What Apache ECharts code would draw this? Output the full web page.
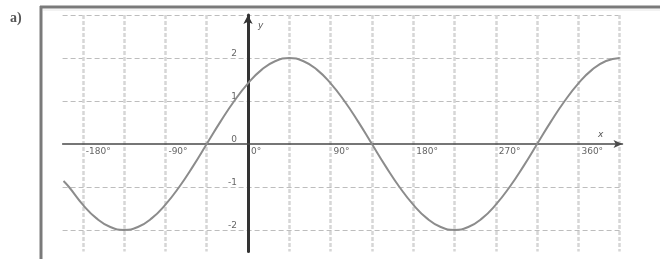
<!DOCTYPE html>
<html>
<head>
<meta charset="utf-8">
<script src="https://cdn.jsdelivr.net/npm/echarts@6/dist/echarts.min.js"></script>
<style>
  html, body { margin: 0; padding: 0; background: #fff; }
  #chart { width: 660px; height: 259px; }
</style>
</head>
<body>
<div id="chart"></div>
<script>
  // angle (deg) and y
  const angles = [-201, -195, -180, -165, -150, -135, -120, -105, -90, -75, -60, -45, -30, -15, 0, 15, 30, 45, 60, 75, 90, 105, 120, 135, 150, 165, 180, 195, 210, 225, 240, 255, 270, 285, 300, 315, 330, 345, 360, 375, 390, 405]
  const yValues = [-0.86, -1, -1.41, -1.73, -1.93, -2, -1.93, -1.73, -1.41, -1, -0.52, 0, 0.52, 1, 1.41, 1.73, 1.93, 2, 1.93, 1.73, 1.41, 1, 0.52, 0, -0.52, -1, -1.41, -1.73, -1.93, -2, -1.93, -1.73, -1.41, -1, -0.52, 0, 0.52, 1, 1.41, 1.73, 1.93, 2]
  const xGrid = [-180, -135, -90, -45, 0, 45, 90, 135, 180, 225, 270, 315, 360, 405]
  const xLabels = [-180, -90, 0, 90, 180, 270, 360]
  const yGrid = [-2, -1, 1, 2, 3]
  const yLabels = [-2, -1, 0, 1, 2]

  const curve = angles.map((a, i) => [a, yValues[i]])

  const options = {
    animation: false,
    grid: {
      left: 62.6,
      right: 37.5,
      top: 15,
      bottom: 7.5,
    },
    xAxis: {
      type: 'value',
      min: -202,
      max: 408,
      // 轴线移到 y=0 处，标签跟着走
      offset: -107.5,
      axisLine: {
        onZero: false,
        symbol: ['none', 'arrow'],
        symbolSize: [6, 9],
        lineStyle: { color: '#4a4a4a', width: 1.5 },
      },
      axisTick: { show: false, customValues: xGrid },
      axisLabel: {
        customValues: xLabels,
        formatter: v => v + '°',
        align: 'left',
        margin: 3,
        padding: [0, 0, 0, 3],
        fontSize: 9,
        color: '#666',
        fontFamily: 'DejaVu Sans',
      },
      // 竖向虚线网格
      splitLine: {
        show: true,
        lineStyle: { color: '#d6d6d6', width: 2.5, type: [4, 2] },
      },
    },
    yAxis: {
      type: 'value',
      min: -2.5,
      max: 3,
      offset: -185.4,
      axisLine: {
        onZero: false,
        symbol: ['none', 'arrow'],
        symbolSize: [7, 9],
        lineStyle: { color: '#333', width: 3 },
      },
      axisTick: { show: false, customValues: yGrid },
      axisLabel: {
        customValues: yLabels,
        margin: 11,
        verticalAlign: 'bottom',
        fontSize: 9,
        color: '#666',
        fontFamily: 'DejaVu Sans',
      },
      splitLine: {
        show: true,
        lineStyle: { color: '#bdbdbd', width: 1, type: [5, 3] },
      },
    },
    graphic: [
      { type: 'text', left: 10, top: 11, style: { text: 'a)', font: 'bold 14px "Liberation Serif"', fill: '#555' } },
      { type: 'line', shape: { x1: 41, y1: 6, x2: 41, y2: 259 }, style: { stroke: '#7a7a7a', lineWidth: 3 } },
      { type: 'line', shape: { x1: 40, y1: 7, x2: 660, y2: 7 }, style: { stroke: '#7a7a7a', lineWidth: 3 } },
      { type: 'line', shape: { x1: 43, y1: 10, x2: 660, y2: 10 }, style: { stroke: '#e6e6e6', lineWidth: 1 } },
      { type: 'text', left: 258, top: 21, style: { text: 'y', font: 'italic 9px "DejaVu Sans"', fill: '#555' } },
      { type: 'text', left: 598, top: 130, style: { text: 'x', font: 'italic 9px "DejaVu Sans"', fill: '#555' } },
    ],
    series: [
      {
        type: 'line',
        data: curve,
        smooth: true,
        showSymbol: false,
        lineStyle: { color: '#8c8c8c', width: 2 },
      },
    ],
  }

  const chart = echarts.init(document.getElementById('chart'))
  chart.setOption(options)
  window.addEventListener('resize', function () {
    chart && chart.resize()
  })
</script>
</body>
</html>
